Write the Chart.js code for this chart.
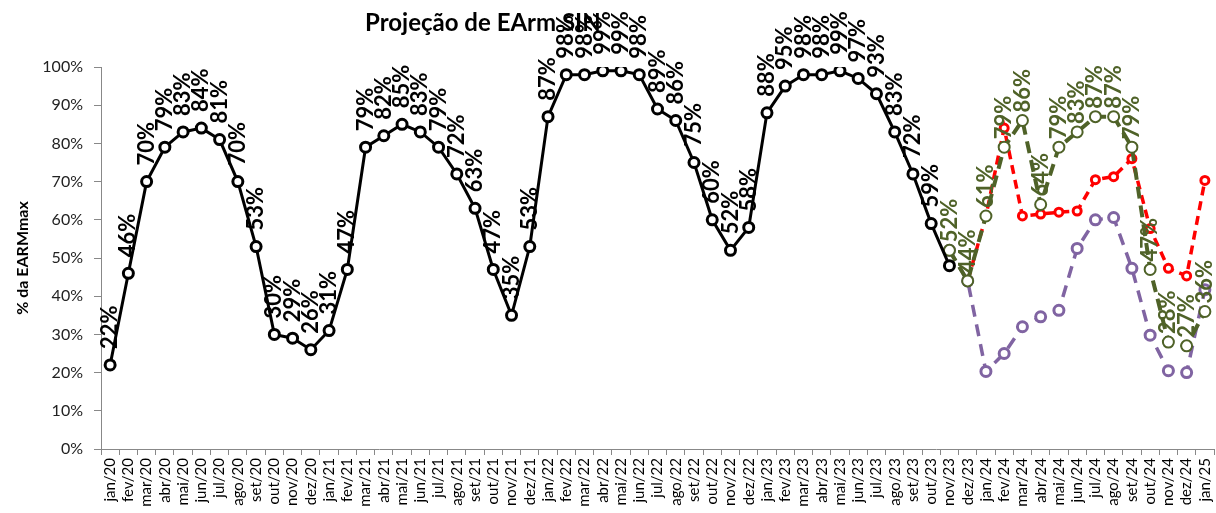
<!DOCTYPE html>
<html lang="pt">
<head>
    <meta charset="UTF-8">
    <title>Projeção de EArm SIN</title>
    <script src="https://cdn.jsdelivr.net/npm/chart.js"></script>
    <style>
        body { margin: 0; background: #fff; }
        .wrap { width: 1216px; height: 513px; }
    </style>
</head>
<body>
    <div class="wrap"><canvas id="earmChart"></canvas></div>

    <script>
        // meses jan/20 .. jan/25
        const months = [
            'jan/20','fev/20','mar/20','abr/20','mai/20','jun/20','jul/20','ago/20','set/20','out/20','nov/20','dez/20',
            'jan/21','fev/21','mar/21','abr/21','mai/21','jun/21','jul/21','ago/21','set/21','out/21','nov/21','dez/21',
            'jan/22','fev/22','mar/22','abr/22','mai/22','jun/22','jul/22','ago/22','set/22','out/22','nov/22','dez/22',
            'jan/23','fev/23','mar/23','abr/23','mai/23','jun/23','jul/23','ago/23','set/23','out/23','nov/23','dez/23',
            'jan/24','fev/24','mar/24','abr/24','mai/24','jun/24','jul/24','ago/24','set/24','out/24','nov/24','dez/24',
            'jan/25'
        ];

        // verificado (%)
        const historico = [
            22, 46, 70, 79, 83, 84, 81, 70, 53, 30, 29, 26,
            31, 47, 79, 82, 85, 83, 79, 72, 63, 47, 35, 53,
            87, 98, 98, 99, 99, 98, 89, 86, 75, 60, 52, 58,
            88, 95, 98, 98, 99, 97, 93, 83, 72, 59, 48
        ];

        // projeções nov/23 .. jan/25
        const projVerde = [52, 44, 61, 79, 86, 64, 79, 83, 87, 87, 79, 47, 28, 27, 36];
        const projRoxa = [52, 44, 20.3, 25, 32, 34.6, 36.3, 52.5, 60, 60.6, 47.3, 29.8, 20.5, 20, 41.7];
        // dez/23 .. jan/25
        const projVermelha = [44, 61, 84, 61, 61.5, 62, 62.3, 70.5, 71.3, 76, 57.7, 47.3, 45.3, 70.3];

        const yTicks = [0, 10, 20, 30, 40, 50, 60, 70, 80, 90, 100];

        const pad = (arr, before) => {
            const out = new Array(before).fill(null).concat(arr);
            while (out.length < months.length) out.push(null);
            return out;
        };

        // título + rótulos de dados verticais acima dos pontos
        const valueLabels = {
            id: 'valueLabels',
            beforeDatasetsDraw(chart) {
                const ctx = chart.ctx;
                ctx.save();
                ctx.font = 'bold 24px Lato';
                ctx.fillStyle = '#000';
                ctx.textBaseline = 'alphabetic';
                ctx.fillText('Projeção de EArm SIN', 365, 31);
                ctx.restore();
            },
            afterDatasetsDraw(chart) {
                const ctx = chart.ctx;
                chart.data.datasets.forEach((ds, i) => {
                    if (!ds.labelColor) return;
                    const meta = chart.getDatasetMeta(i);
                    meta.data.forEach((pt, j) => {
                        const v = ds.data[j];
                        if (v == null || j === ds.skipLabel) return;
                        ctx.save();
                        ctx.translate(pt.x, pt.y - ds.labelGap);
                        ctx.rotate(-Math.PI / 2);
                        ctx.font = 'bold 22px Lato';
                        ctx.fillStyle = ds.labelColor;
                        ctx.textAlign = 'left';
                        ctx.textBaseline = 'middle';
                        ctx.fillText(Math.round(v) + '%', 0, 0);
                        ctx.restore();
                    });
                });
            }
        };

        const ctx = document.getElementById('earmChart').getContext('2d');
        new Chart(ctx, {
            type: 'line',
            data: {
                labels: months,
                datasets: [
                    {
                        label: 'Verificado',
                        data: pad(historico, 0),
                        borderColor: '#000',
                        borderWidth: 3,
                        pointRadius: 5,
                        pointBorderWidth: 3,
                        pointBackgroundColor: '#fff',
                        pointBorderColor: '#000',
                        labelColor: '#000',
                        labelGap: 16,
                        skipLabel: 46,
                        order: 0,
                    },
                    {
                        label: 'Cenário 1',
                        data: pad(projVerde, 46),
                        borderColor: '#4F6228',
                        borderWidth: 4,
                        borderDash: [12, 7],
                        pointRadius: 5.5,
                        pointBorderWidth: 2,
                        pointBackgroundColor: '#fff',
                        pointBorderColor: '#4F6228',
                        labelColor: '#4F6228',
                        labelGap: 8,
                        order: 1,
                    },
                    {
                        label: 'Cenário 2',
                        data: pad(projVermelha, 47),
                        borderColor: '#FF0000',
                        borderWidth: 3.5,
                        borderDash: [9, 6],
                        pointRadius: 4,
                        pointBorderWidth: 3,
                        pointBackgroundColor: '#fff',
                        pointBorderColor: '#FF0000',
                        order: 2,
                    },
                    {
                        label: 'Cenário 3',
                        data: pad(projRoxa, 46),
                        borderColor: '#8064A2',
                        borderWidth: 3.5,
                        borderDash: [12, 8],
                        pointRadius: 5,
                        pointBorderWidth: 3,
                        pointBackgroundColor: '#fff',
                        pointBorderColor: '#8064A2',
                        order: 3,
                    },
                ],
            },
            options: {
                responsive: true,
                maintainAspectRatio: false,
                animation: false,
                layout: { autoPadding: false, padding: { top: 67, right: 2, left: 0, bottom: 0 } },
                plugins: {
                    legend: { display: false },
                    tooltip: { enabled: false },
                },
                scales: {
                    x: {
                        offset: true,
                        afterFit: (scale) => {
                            scale.height = 64;
                            scale.paddingLeft = 0;
                            scale.paddingRight = 0;
                        },
                        grid: { drawOnChartArea: false, offset: true, tickLength: 6, color: '#888' },
                        border: { color: '#888' },
                        ticks: {
                            autoSkip: false,
                            minRotation: 90,
                            maxRotation: 90,
                            padding: 3,
                            color: '#000',
                            font: { family: 'Lato', size: 15 },
                        },
                    },
                    y: {
                        min: 0,
                        max: 100,
                        afterFit: (scale) => { scale.width = 101; },
                        afterBuildTicks: (scale) => { scale.ticks = yTicks.map(v => ({ value: v })); },
                        grid: { drawOnChartArea: false, tickLength: 7, color: '#888' },
                        border: { color: '#888' },
                        ticks: {
                            padding: 11,
                            color: '#222',
                            font: { family: 'Lato', size: 16 },
                            callback: (v) => v + '%',
                        },
                        title: {
                            display: true,
                            text: '% da EARMmax',
                            color: '#000',
                            padding: { top: 13, bottom: 0 },
                            font: { family: 'Lato', size: 16, weight: 'bold' },
                        },
                    },
                },
            },
            plugins: [valueLabels],
        });
    </script>
</body>
</html>
